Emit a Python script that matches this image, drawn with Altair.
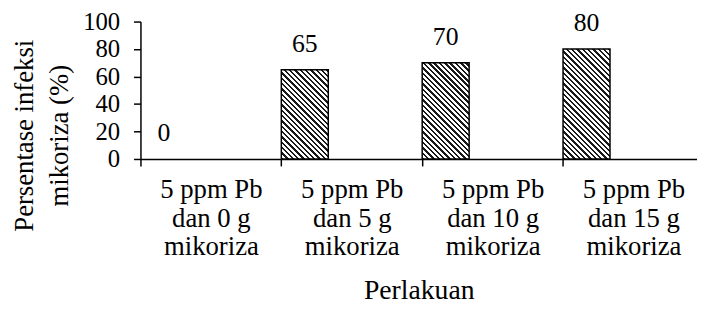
import json
import altair as alt
import pandas as pd

# ---- data ----
categories = ["5 ppm Pb dan 0 g mikoriza", "5 ppm Pb dan 5 g mikoriza",
              "5 ppm Pb dan 10 g mikoriza", "5 ppm Pb dan 15 g mikoriza"]
category_lines = [["5 ppm Pb", "dan 0 g", "mikoriza"],
                  ["5 ppm Pb", "dan 5 g", "mikoriza"],
                  ["5 ppm Pb", "dan 10 g", "mikoriza"],
                  ["5 ppm Pb", "dan 15 g", "mikoriza"]]
values = [0, 65, 70, 80]
y_ticks = [0, 20, 40, 60, 80, 100]

# ---- layout ----
FONT = "Times New Roman, Liberation Serif, serif"
PLOT_W = 563
PLOT_H = 139
X_MAX = 3.951          # visible part of 4 category slots
SLOT = 1.0 / 3.0       # bar occupies first third of each category slot

df = pd.DataFrame({
    "cat": categories,
    "idx": list(range(len(categories))),
    "value": values,
})
df["x0"] = df["idx"]
df["x1"] = df["idx"] + SLOT
df["xc"] = df["idx"] + SLOT / 2

px_per_unit = PLOT_W / X_MAX
bar_w = px_per_unit * SLOT


def hatch(h, period=5.4, dark=2.4, color="#1a1a1a"):
    w = bar_w
    L = w + h
    k = L / (w * w + h * h)
    x1, y1 = 0.0, 1.0
    x2, y2 = k * w, 1.0 - k * h
    stops = []
    s = 0.0
    while s < L:
        a = s / L
        b = min((s + dark) / L, 1.0)
        c = min((s + period) / L, 1.0)
        stops += [{"offset": a, "color": color}, {"offset": b, "color": color},
                  {"offset": b, "color": "white"}, {"offset": c, "color": "white"}]
        s += period
    return {"gradient": "linear", "x1": x1, "y1": y1, "x2": x2, "y2": y2,
            "stops": stops}


label_expr = json.dumps(category_lines) + "[datum.value]"

x_scale = alt.Scale(domain=[0, X_MAX], nice=False, zero=False)
y_scale = alt.Scale(domain=[0, 100], nice=False)

x_axis = alt.Axis(values=[0, 1, 2, 3], labelExpr=label_expr,
                  labelOffset=px_per_unit / 2, labelFont=FONT,
                  labelFontSize=27, labelLineHeight=29,
                  labelColor="black", labelPadding=11,
                  labelAlign="center", labelBaseline="top",
                  labelOverlap=False, labelFlush=False,
                  ticks=True, tickSize=7, tickColor="black",
                  tickWidth=1.5, domainColor="black",
                  domainWidth=1.5, grid=False,
                  title="Perlakuan", titleFont=FONT,
                  titleFontSize=28, titleFontWeight="normal",
                  titleColor="black", titlePadding=17)
y_axis = alt.Axis(values=y_ticks, labelFont=FONT, labelFontSize=25,
                  labelColor="black", labelPadding=14,
                  labelOverlap=False, labelFlush=False,
                  tickSize=7, tickColor="black", tickWidth=1.5,
                  domainColor="black", domainWidth=1.5, grid=False,
                  title=["Persentase infeksi", "mikoriza (%)"],
                  titleFont=FONT, titleFontSize=27,
                  titleFontWeight="normal", titleColor="black",
                  titleLineHeight=35, titleX=-117, titleY=115,
                  titleAlign="center", titleBaseline="middle",
                  titleAngle=270)

base = alt.Chart(df)

layers = []
for i, v in enumerate(values):
    if v <= 0:
        continue
    h = v * PLOT_H / 100.0
    layers.append(
        base.transform_filter(alt.datum.idx == i)
        .mark_rect(fill=hatch(h), stroke="black", strokeWidth=1.5)
        .encode(x=alt.X("x0:Q", scale=x_scale, axis=x_axis),
                x2="x1:Q",
                y=alt.Y("value:Q", scale=y_scale, axis=y_axis),
                y2=alt.datum(0))
    )

labels = base.mark_text(font=FONT, fontSize=26, color="black",
                        baseline="middle", align="center", dy=-26).encode(
    x=alt.X("xc:Q", scale=x_scale, axis=x_axis),
    y=alt.Y("value:Q", scale=y_scale, axis=y_axis),
    text=alt.Text("value:Q"))

chart = alt.layer(*layers, labels).properties(
    width=PLOT_W, height=PLOT_H,
    padding={"left": 134, "top": 12, "right": 0, "bottom": 146},
    autosize=alt.AutoSizeParams(type="none"),
).configure_view(stroke=None)

chart.save("out.html", embed_options={"renderer": "svg", "actions": False})
